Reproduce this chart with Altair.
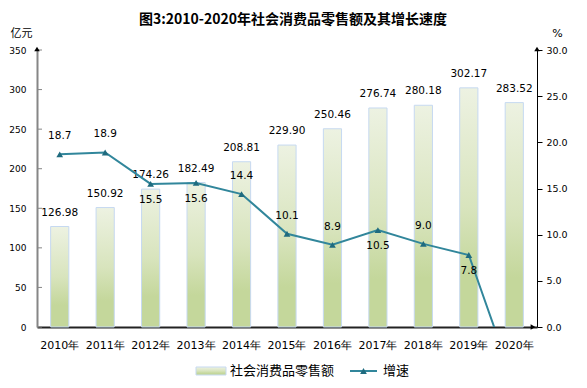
import altair as alt
import pandas as pd

# ---------------- data ----------------
years = ["2010年", "2011年", "2012年", "2013年", "2014年", "2015年",
         "2016年", "2017年", "2018年", "2019年", "2020年"]
sales = [126.98, 150.92, 174.26, 182.49, 208.81, 229.90,
         250.46, 276.74, 280.18, 302.17, 283.52]
growth = [18.7, 18.9, 15.5, 15.6, 14.4, 10.1, 8.9, 10.5, 9.0, 7.8, -6.2]
growth_label_below = ["2012年", "2013年", "2017年", "2019年"]
left_ticks = [0, 50, 100, 150, 200, 250, 300, 350]
right_ticks = [0, 5, 10, 15, 20, 25, 30]
legend_labels = ["社会消费品零售额", "增速"]
title_text = "图3:2010-2020年社会消费品零售额及其增长速度"

# ---------------- styling ----------------
W, H = 500, 277
FONT = "DejaVu Sans"
CJK = "Noto Sans CJK SC"
LINE_COLOR = "#31869b"
MARK_COLOR = "#1f6b7f"
BAR_STROKE = "#c6d9f1"

df = pd.DataFrame({"year": years, "sales": sales, "growth": growth})
df["sales_label"] = [f"{v:.2f}" for v in sales]
df["growth_label"] = [f"{v:.1f}" for v in growth]
df["below"] = [y in growth_label_below for y in years]

gradient = alt.LinearGradient(
    gradient="linear",
    stops=[
        alt.GradientStop(color="#edf2e2", offset=0),
        alt.GradientStop(color="#d8e4bd", offset=0.5),
        alt.GradientStop(color="#c4d79b", offset=0.78),
        alt.GradientStop(color="#c4d79b", offset=1),
    ],
    x1=0, x2=0, y1=0, y2=1,
)

x_enc = alt.X(
    "year:N", sort=years,
    scale=alt.Scale(paddingInner=0.6, paddingOuter=0.3),
    axis=alt.Axis(title=None, labelAngle=0, ticks=False, labelPadding=12,
                  labelFont=FONT, labelFontSize=11, labelColor="black",
                  domainColor="#222222", domainWidth=2, grid=False),
)

y_left = alt.Y(
    "sales:Q",
    scale=alt.Scale(domain=[0, 350], nice=False),
    axis=alt.Axis(values=left_ticks, orient="left", grid=False,
                  title="亿元", titleAngle=0, titleX=-16, titleY=-17,
                  titleAlign="center", titleBaseline="middle",
                  titleFont=CJK, titleFontSize=11, titleFontWeight="normal",
                  titleColor="black",
                  tickSize=0, labelPadding=11, labelFont=FONT, labelFontSize=9,
                  labelColor="black", domainColor="#868686", domainWidth=2),
)

y_right = alt.Y(
    "growth:Q",
    scale=alt.Scale(domain=[0, 30], nice=False),
    axis=alt.Axis(values=right_ticks, format=".1f", orient="right", grid=False,
                  title="%", titleAngle=0, titleX=20, titleY=-17,
                  titleAlign="center", titleBaseline="middle",
                  titleFont=FONT, titleFontSize=11, titleFontWeight="normal",
                  titleColor="black",
                  tickSize=5, tickColor="black", labelPadding=4,
                  labelFont=FONT, labelFontSize=9.5, labelColor="black",
                  domainColor="black", domainWidth=1),
)

# ---------------- left group: bars ----------------
bars = alt.Chart(df).mark_bar(fill=gradient, stroke=BAR_STROKE, strokeWidth=1).encode(
    x=x_enc, y=y_left)

bar_labels = alt.Chart(df).mark_text(dy=-14, font=FONT, fontSize=10.5, color="black").encode(
    x=x_enc, y=y_left, text="sales_label:N")

inner_ticks = alt.Chart(pd.DataFrame({"sales": left_ticks})).mark_rule(
    color="#868686", strokeWidth=1).encode(y=y_left, x=alt.value(0), x2=alt.value(5))

left = alt.layer(bars, bar_labels, inner_ticks)

# ---------------- right group: growth line ----------------
line = alt.Chart(df).mark_line(color=LINE_COLOR, strokeWidth=2, clip=True).encode(
    x=x_enc, y=y_right)

pts = alt.Chart(df).transform_filter("datum.growth >= 0").mark_point(
    shape="triangle-up", filled=True, size=45, color=MARK_COLOR, opacity=1).encode(
    x=x_enc, y=y_right)

lab_above = alt.Chart(df).transform_filter("datum.growth >= 0 && !datum.below").mark_text(
    dy=-18, font=FONT, fontSize=10.5, color="black").encode(
    x=x_enc, y=y_right, text="growth_label:N")

lab_below = alt.Chart(df).transform_filter("datum.growth >= 0 && datum.below").mark_text(
    dy=16, font=FONT, fontSize=10.5, color="black").encode(
    x=x_enc, y=y_right, text="growth_label:N")

right = alt.layer(line, pts, lab_above, lab_below)

# ---------------- decorations: axis arrows & legend ----------------
one = pd.DataFrame({"k": [0]})

arrow_left = alt.Chart(one).mark_point(shape="triangle-up", filled=True, size=30,
                                       color="black", opacity=1).encode(
    x=alt.value(0), y=alt.value(-1))
arrow_right = alt.Chart(one).mark_point(shape="triangle-up", filled=True, size=30,
                                        color="black", opacity=1).encode(
    x=alt.value(W), y=alt.value(-1))
arrow_x = alt.Chart(one).mark_point(shape="triangle-right", filled=True, size=30,
                                    color="black", opacity=1).encode(
    x=alt.value(W - 4), y=alt.value(H))

LY = 321
leg_rect = alt.Chart(one).mark_rect(fill=gradient, stroke=BAR_STROKE, strokeWidth=1).encode(
    x=alt.value(159), x2=alt.value(189), y=alt.value(LY - 4), y2=alt.value(LY + 4))
leg_text1 = alt.Chart(one).mark_text(align="left", baseline="middle", font=CJK,
                                     fontSize=13, color="black").encode(
    x=alt.value(193), y=alt.value(LY), text=alt.value(legend_labels[0]))
leg_line = alt.Chart(one).mark_rule(color=LINE_COLOR, strokeWidth=2).encode(
    x=alt.value(313), x2=alt.value(340), y=alt.value(LY))
leg_pt = alt.Chart(one).mark_point(shape="triangle-up", filled=True, size=45,
                                   color=MARK_COLOR, opacity=1).encode(
    x=alt.value(326.5), y=alt.value(LY))
leg_text2 = alt.Chart(one).mark_text(align="left", baseline="middle", font=CJK,
                                     fontSize=13, color="black").encode(
    x=alt.value(346), y=alt.value(LY), text=alt.value(legend_labels[1]))

deco = alt.layer(arrow_left, arrow_right, arrow_x,
                 leg_rect, leg_text1, leg_line, leg_pt, leg_text2)

chart = alt.layer(left, right, deco).resolve_scale(y="independent").properties(
    width=W, height=H,
    title=alt.TitleParams(text=title_text, font=CJK, fontSize=14, fontWeight="bold",
                          color="black", anchor="middle", offset=0, dx=6),
    padding={"left": 29, "top": 42, "right": 40, "bottom": 53},
    autosize=alt.AutoSizeParams(type="none"),
).configure_view(stroke=None)

chart.save("out.html", embed_options={"renderer": "svg", "actions": False})
